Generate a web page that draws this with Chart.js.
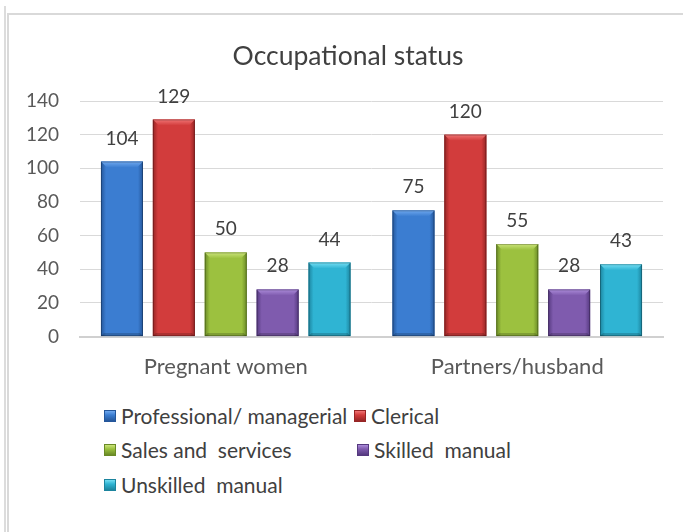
<!DOCTYPE html>
<html>
<head>
<meta charset="utf-8">
<script src="https://cdn.jsdelivr.net/npm/chart.js@4"></script>
<style>
    body { margin: 0; background: #fff; width: 683px; height: 532px; overflow: hidden; position: relative; font-family: Lato, "Open Sans", sans-serif; }
    .outer { position: absolute; left: 4px; top: 6px; width: 2px; height: 530px; background: #dcdcdc; }
    .frame { position: absolute; left: 7px; top: 13px; width: 690px; height: 530px; border-top: 2px solid #d9d9d9; border-left: 2px solid #d9d9d9; }
    #wrap { position: absolute; left: 9px; top: 15px; width: 674px; height: 383px; }
    #title { position: absolute; left: 9px; width: 678px; top: 39px; text-align: center; font-size: 26.5px; color: #404040; line-height: 32px; }
    .leg { position: absolute; display: flex; align-items: center; font-size: 21px; color: #404040; white-space: nowrap; }
    .leg i { display: inline-block; width: 12px; height: 12px; margin-right: 5px; box-sizing: border-box; }
</style>
</head>
<body>
<div class="outer"></div>
<div class="frame"></div>
<div id="wrap"><canvas id="chart"></canvas></div>
<div id="title">Occupational status</div>
<div id="legend"></div>
<script>
document.addEventListener("DOMContentLoaded", () => {
    // Data
    const categories = ["Pregnant women", "Partners/husband"];
    const seriesNames = ["Professional/ managerial", "Clerical", "Sales and  services", "Skilled  manual", "Unskilled  manual"];
    const professional = [104, 75];
    const clerical = [129, 120];
    const sales = [50, 55];
    const skilled = [28, 28];
    const unskilled = [44, 43];
    const yTicks = [0, 20, 40, 60, 80, 100, 120, 140];

    // base, dark edge, light highlight
    const palette = [
        ["#3b7dd1", "#24569a", "#6fa8ee"],
        ["#d23c3c", "#962525", "#f07474"],
        ["#9cc13f", "#6a8a26", "#cbe47a"],
        ["#7f5bae", "#55397f", "#ab8bd9"],
        ["#2fb4d3", "#1c849e", "#74def3"]
    ];

    const values = [professional, clerical, sales, skilled, unskilled];

    // Bevel look + value labels on top of each bar
    const bevelBars = {
        id: "bevelBars",
        afterDatasetsDraw(chart) {
            const c = chart.ctx;
            chart.data.datasets.forEach((ds, di) => {
                const meta = chart.getDatasetMeta(di);
                const [base, dark, light] = palette[di];
                meta.data.forEach((bar, i) => {
                    const w = bar.width;
                    const l = bar.x - w / 2, r = bar.x + w / 2;
                    const t = bar.y, b = bar.base;
                    const g = c.createLinearGradient(l, 0, r, 0);
                    g.addColorStop(0, dark);
                    g.addColorStop(0.12, base);
                    g.addColorStop(0.45, base);
                    g.addColorStop(0.88, base);
                    g.addColorStop(1, dark);
                    c.save();
                    c.fillStyle = g;
                    c.fillRect(l, t, w, b - t);
                    // top bevel
                    const bv = 6;
                    const tg = c.createLinearGradient(0, t, 0, t + bv);
                    tg.addColorStop(0, light);
                    tg.addColorStop(1, base);
                    c.fillStyle = tg;
                    c.beginPath();
                    c.moveTo(l, t);
                    c.lineTo(r, t);
                    c.lineTo(r - bv, t + bv);
                    c.lineTo(l + bv, t + bv);
                    c.closePath();
                    c.fill();
                    // bottom shade
                    c.fillStyle = "rgba(0,0,0,0.18)";
                    c.beginPath();
                    c.moveTo(l, b);
                    c.lineTo(r, b);
                    c.lineTo(r - 3, b - 3);
                    c.lineTo(l + 3, b - 3);
                    c.closePath();
                    c.fill();
                    c.strokeStyle = "rgba(0,0,0,0.25)";
                    c.lineWidth = 1;
                    c.strokeRect(l + 0.5, t + 0.5, w - 1, b - t - 1);
                    // value label
                    c.fillStyle = "#404040";
                    c.font = "19px Lato";
                    c.textAlign = "center";
                    c.textBaseline = "alphabetic";
                    c.fillText(String(ds.data[i]), bar.x, t - 17);
                    c.restore();
                });
            });
        }
    };

    const ctx = document.getElementById("chart").getContext("2d");
    new Chart(ctx, {
        type: "bar",
        data: {
            labels: categories,
            datasets: seriesNames.map((name, i) => ({
                label: name,
                data: values[i],
                backgroundColor: palette[i][0],
                borderWidth: 0,
                categoryPercentage: 0.89,
                barPercentage: 0.81
            }))
        },
        options: {
            responsive: true,
            maintainAspectRatio: false,
            animation: false,
            layout: { padding: { left: 0, right: 20, top: 86, bottom: 1 } },
            plugins: {
                legend: { display: false },
                tooltip: { enabled: false },
                title: { display: false }
            },
            scales: {
                x: {
                    grid: { display: false, drawTicks: false },
                    border: { color: "#d0d0d0", width: 2 },
                    ticks: { color: "#595959", font: { family: "Lato", size: 22 }, padding: 17 }
                },
                y: {
                    min: 0,
                    max: 140,
                    afterBuildTicks: (scale) => { scale.ticks = yTicks.map(v => ({ value: v })); },
                    afterFit: (scale) => { scale.width = 71; },
                    grid: { color: "#d9d9d9", lineWidth: 1, drawTicks: false },
                    border: { display: false },
                    ticks: { color: "#595959", font: { family: "Lato", size: 19 }, padding: 21 }
                }
            }
        },
        plugins: [bevelBars]
    });

    // Legend laid out in rows like the original
    const legendSpots = [[104, 416], [354, 416], [104, 450], [357, 450], [104, 485]];
    const legend = document.getElementById("legend");
    seriesNames.forEach((name, i) => {
        const [base, dark, light] = palette[i];
        const item = document.createElement("div");
        item.className = "leg";
        item.style.left = legendSpots[i][0] + "px";
        item.style.top = (legendSpots[i][1] - 13) + "px";
        item.innerHTML = `<i style="background: linear-gradient(180deg, ${light} 0%, ${base} 40%, ${dark} 100%); border: 1px solid ${dark};"></i><span>${name.replace(/  /g, "&nbsp; ")}</span>`;
        legend.appendChild(item);
    });
});
</script>
</body>
</html>
